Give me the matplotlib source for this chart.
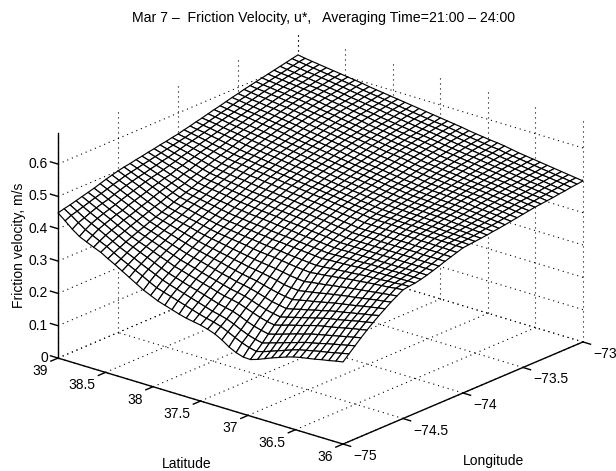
#
# friction velocity surface, matlab style box
#
import numpy as np
import matplotlib
matplotlib.use("Agg")
import matplotlib.pyplot as plt
from mpl_toolkits.mplot3d import proj3d

plt.rcParams['font.family'] = ['Liberation Sans', 'DejaVu Sans']

lon_ticks = [-75, -74.5, -74, -73.5, -73]
lat_ticks = [39, 38.5, 38, 37.5, 37, 36.5, 36]
z_ticks = [0, 0.1, 0.2, 0.3, 0.4, 0.5, 0.6]
lon_labels = ["\u221275", "\u221274.5", "\u221274", "\u221273.5", "\u221273"]
lat_labels = ["39", "38.5", "38", "37.5", "37", "36.5", "36"]
z_labels = ["0", "0.1", "0.2", "0.3", "0.4", "0.5", "0.6"]

lons = np.linspace(-75, -73, 41)
lats = np.linspace(36, 39, 41)
ustar = [
    [254,271,288,305,321,336,350,363,376,387,398,401,403,407,412,418,424,431,437,443,449,451,453,455,457,460,462,465,468,471,474,477,480,482,484,486,489,491,494,496,498],
    [250,266,283,300,316,331,345,359,372,384,396,400,403,407,412,418,424,431,437,443,449,452,454,456,459,462,464,467,470,473,476,479,482,484,487,489,492,494,497,499,501],
    [245,261,278,295,312,327,341,355,369,381,393,398,402,407,412,418,424,431,438,444,450,452,455,458,460,463,466,469,473,476,479,482,485,487,489,492,495,497,500,502,504],
    [241,256,273,290,307,322,336,351,365,378,391,397,402,407,412,418,424,431,438,444,450,453,456,459,462,465,468,471,475,478,481,484,487,490,492,495,498,500,503,505,507],
    [236,252,268,285,302,317,332,346,361,375,389,395,401,406,411,418,425,432,438,445,451,454,457,460,463,467,470,474,477,481,484,487,490,492,495,497,500,503,505,508,510],
    [232,247,262,280,297,312,327,342,357,372,387,394,401,406,411,418,425,432,438,445,451,455,458,461,465,469,472,476,479,483,486,489,492,495,498,500,503,506,508,511,513],
    [228,242,257,275,293,308,323,338,354,369,384,393,400,406,411,418,425,432,439,446,452,456,459,463,467,471,474,478,482,486,489,492,495,498,501,503,506,509,511,514,516],
    [223,237,252,270,288,303,318,334,350,366,382,391,400,406,411,418,425,432,439,446,452,456,460,464,468,472,476,480,484,488,491,494,497,500,503,506,509,512,514,517,519],
    [216,230,245,263,282,297,312,329,346,362,379,389,399,405,411,418,425,432,439,446,452,457,461,465,469,473,477,481,485,489,493,496,499,502,505,509,512,515,517,520,522],
    [208,222,238,257,275,291,307,324,342,359,376,387,397,404,411,418,425,432,439,447,453,457,462,466,470,474,478,482,487,491,494,498,501,505,508,511,514,517,520,523,525],
    [200,214,231,250,269,285,301,319,337,355,373,385,396,404,411,418,425,433,440,447,454,458,462,467,471,475,480,484,488,492,496,500,503,507,510,514,517,520,523,526,529],
    [191,206,224,243,263,279,296,315,333,352,370,383,395,403,411,418,425,433,440,447,454,459,463,468,472,476,481,485,489,494,498,502,506,510,513,517,520,524,527,530,533],
    [182,198,217,236,256,273,290,310,329,349,368,381,394,402,410,418,425,433,440,448,454,459,464,469,474,478,482,487,491,495,500,504,508,512,516,519,523,526,529,532,536],
    [175,192,210,230,250,267,285,305,325,345,365,379,392,401,410,418,425,433,440,448,455,460,465,470,475,479,484,488,492,497,501,506,510,514,518,522,525,529,532,535,538],
    [176,197,215,235,254,271,289,308,327,347,367,381,394,403,412,420,428,436,443,451,458,463,467,472,477,482,487,491,495,500,504,509,513,517,521,525,528,532,535,538,541],
    [183,205,222,241,260,276,293,312,330,350,369,383,396,405,414,423,430,438,445,453,460,465,470,475,480,484,489,493,497,502,507,511,515,519,523,527,531,535,538,541,544],
    [194,215,231,249,268,283,300,317,336,354,372,385,398,407,416,425,433,441,448,455,462,467,472,477,482,487,492,496,500,505,510,514,518,523,527,530,534,538,541,544,547],
    [209,226,242,259,276,291,307,323,341,358,375,387,400,409,418,427,436,444,451,458,465,470,475,480,485,490,495,499,503,508,513,518,522,526,530,534,537,541,545,548,551],
    [221,236,251,267,284,298,313,329,345,361,378,390,402,411,420,430,439,446,453,460,467,472,477,482,487,492,497,502,506,511,516,521,525,529,533,537,540,544,548,551,554],
    [229,243,257,272,289,303,318,333,349,364,380,392,404,413,423,432,441,449,456,463,470,475,480,485,490,495,500,505,509,514,519,524,528,532,536,540,543,547,551,554,557],
    [235,248,262,277,293,307,322,337,352,367,382,394,405,415,425,434,443,451,458,465,472,477,482,487,492,497,502,507,511,516,521,526,530,534,538,542,545,549,553,556,560],
    [239,254,269,284,299,313,328,342,357,371,385,397,408,417,427,436,445,453,460,467,474,480,485,490,495,500,505,510,514,519,524,529,533,537,541,545,548,552,556,559,563],
    [243,261,276,291,306,319,333,347,361,375,389,400,410,420,430,439,447,455,463,470,477,482,487,493,498,503,508,513,517,522,527,532,536,540,544,548,551,555,559,562,566],
    [249,268,283,298,312,325,339,353,366,379,392,402,413,422,432,441,449,457,465,472,479,485,490,496,501,506,511,516,520,525,530,535,539,543,547,551,554,558,562,565,569],
    [256,275,290,304,319,331,345,358,370,383,395,405,415,424,434,443,452,460,467,475,482,487,493,499,504,509,514,519,524,529,534,538,542,546,550,554,557,561,565,568,572],
    [263,282,297,311,325,338,351,363,375,387,398,408,418,427,436,445,454,462,470,477,484,490,496,502,507,512,517,522,527,532,537,541,545,549,553,557,560,564,568,571,575],
    [270,289,304,318,332,344,356,368,379,391,401,411,420,429,439,448,456,464,472,480,487,493,498,504,510,515,520,525,530,535,540,544,549,553,557,561,564,568,571,575,578],
    [280,296,312,325,338,350,362,373,384,395,405,414,423,432,441,450,458,466,474,482,489,495,501,507,513,518,523,528,533,538,543,548,552,556,560,564,567,571,574,578,581],
    [290,307,322,334,347,358,369,380,390,400,410,419,427,436,445,453,461,469,477,485,492,498,504,510,516,521,526,531,536,541,546,551,555,559,563,567,570,574,577,581,584],
    [303,319,332,344,355,366,376,386,396,406,415,423,432,440,448,457,464,472,480,487,494,500,506,513,519,524,529,534,539,544,549,554,559,563,567,571,574,577,581,584,587],
    [316,330,342,354,364,374,383,393,402,411,419,428,436,444,451,460,467,475,482,490,497,503,509,515,521,527,532,537,542,547,552,557,562,566,570,574,577,580,584,587,590],
    [329,341,353,363,373,382,391,399,408,416,424,433,441,448,455,463,471,478,485,493,500,506,512,518,524,530,535,541,546,551,556,561,565,569,573,577,580,584,587,591,594],
    [342,352,363,373,381,390,398,406,414,422,429,437,445,452,459,466,474,481,488,495,502,508,514,521,527,533,538,544,549,554,559,564,568,573,577,581,584,587,591,594,597],
    [354,364,373,382,390,398,405,413,420,427,434,442,449,456,462,470,477,484,491,498,505,511,517,524,530,536,541,547,552,557,562,567,572,576,580,584,587,590,594,597,600],
    [367,377,385,394,401,409,416,423,430,437,443,451,457,464,469,477,483,490,496,503,509,515,521,528,533,539,544,550,555,560,565,570,575,579,583,587,590,593,597,600,603],
    [376,387,397,405,412,420,426,433,440,446,453,460,466,472,477,484,489,496,502,508,514,519,525,531,537,542,547,553,558,563,568,572,577,581,585,589,592,596,600,603,606],
    [386,398,409,417,424,431,436,444,450,456,462,469,474,480,484,491,496,502,507,513,518,523,529,535,540,545,550,556,561,565,570,575,580,584,588,592,595,599,603,606,609],
    [396,409,420,428,435,441,447,454,460,466,472,478,483,487,492,497,502,508,513,518,523,528,533,538,543,548,553,558,563,568,573,578,582,586,590,594,598,601,605,609,612],
    [412,424,431,439,446,452,457,464,470,476,481,486,490,495,499,504,508,513,518,523,527,532,537,542,547,552,557,561,566,571,575,580,585,589,593,597,601,604,608,612,615],
    [431,440,445,451,457,463,468,474,480,485,491,495,499,503,507,511,515,519,523,527,531,536,540,545,550,555,560,564,569,574,578,583,587,591,595,599,603,607,611,615,618],
    [449,454,458,463,468,473,478,484,490,495,500,504,507,511,514,518,521,525,528,532,535,540,544,549,553,558,563,567,572,577,581,586,590,594,598,602,606,610,614,618,622],
]

LON0, LON1 = -75, -73
LAT0, LAT1 = 36, 39
ZMAX = 0.696

W, H = 616, 471
fig = plt.figure(figsize=(W/100, H/100), dpi=100)

# square axes, size and origin worked out from the corners of the box
S = 562.4
ax = fig.add_axes([31.7/W, -55.3/H, S/W, S/H], projection='3d')
ax.set_proj_type('ortho')
ax.computed_zorder = False
ax.set_xlim(LON0, LON1, view_margin=0)
ax.set_ylim(LAT0, LAT1, view_margin=0)
ax.set_zlim(0, ZMAX, view_margin=0)
ax.set_box_aspect((372.5, 372.5, 241))
ax.view_init(elev=21, azim=-139.9)
ax.set_axis_off()

grid = dict(color='k', lw=0.8, ls=(0, (1, 3.5)), zorder=1)
solid = dict(color='k', lw=1.0, zorder=3)

# walls and floor
for z in z_ticks:
    ax.plot([LON0, LON1], [LAT1, LAT1], [z, z], **grid)
    ax.plot([LON1, LON1], [LAT0, LAT1], [z, z], **grid)
for lon in lon_ticks:
    ax.plot([lon, lon], [LAT0, LAT1], [0, 0], **grid)
    ax.plot([lon, lon], [LAT1, LAT1], [0, ZMAX], **grid)
for lat in lat_ticks:
    ax.plot([LON0, LON1], [lat, lat], [0, 0], **grid)
    ax.plot([LON1, LON1], [lat, lat], [0, ZMAX], **grid)

# surface
X, Y = np.meshgrid(lons, lats)
Z = np.array(ustar) / 1000.
ax.plot_surface(X, Y, Z, rstride=1, cstride=1, color='w', edgecolor='k',
                linewidth=0.85, shade=False, antialiased=True, zorder=2)

# axes lines and ticks
ax.plot([LON0, LON0], [LAT1, LAT1], [0, ZMAX], **solid)
ax.plot([LON0, LON0], [LAT0, LAT1], [0, 0], **solid)
ax.plot([LON0, LON1], [LAT0, LAT0], [0, 0], **solid)
for z in z_ticks:
    ax.plot([LON0, LON0], [LAT1, LAT1 + 0.08], [z, z], **solid)
for lat in lat_ticks:
    ax.plot([LON0, LON0 - 0.06], [lat, lat], [0, 0], **solid)
for lon in lon_ticks:
    ax.plot([lon, lon], [LAT0, LAT0 - 0.08], [0, 0], **solid)


def tick_text(x, y, z, s, dx, dy, **kw):
    px, py, _ = proj3d.proj_transform(x, y, z, ax.get_proj())
    ax.annotate(s, xy=(px, py), xytext=(dx, dy), textcoords='offset pixels',
                annotation_clip=False, fontsize=10, **kw)


for z, s in zip(z_ticks, z_labels):
    tick_text(LON0, LAT1, z, s, -10, 0, ha='right', va='center')
for lat, s in zip(lat_ticks, lat_labels):
    tick_text(LON0, lat, 0, s, -10.5, -13, ha='right', va='center')
for lon, s in zip(lon_ticks, lon_labels):
    tick_text(lon, LAT0, 0, s, 10, -12, ha='left', va='center')

fig.text(324/W, 1 - 18/H, "Mar 7 \u2013  Friction Velocity, u*,   Averaging Time=21:00 \u2013 24:00",
         ha='center', va='center', fontsize=10.2)
fig.text(19/W, 1 - 245/H, "Friction velocity, m/s", rotation=90, ha='center', va='center', fontsize=10)
fig.text(187/W, 1 - 463.5/H, "Latitude", ha='center', va='center', fontsize=10)
fig.text(494/W, 1 - 461/H, "Longitude", ha='center', va='center', fontsize=10)

fig.savefig("out.png", dpi=100)
